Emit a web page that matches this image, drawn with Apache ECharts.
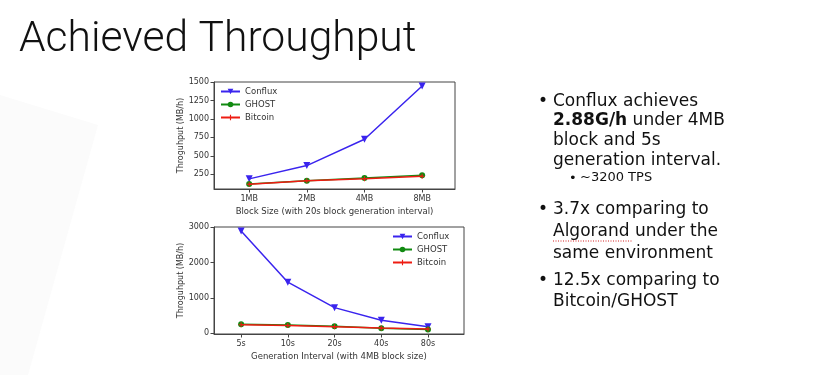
<!DOCTYPE html>
<html>
<head>
<meta charset="utf-8">
<script src="https://cdn.jsdelivr.net/npm/echarts@6/dist/echarts.min.js"></script>
<style>
html,body{margin:0;padding:0;background:#fff;}
#chart{width:815px;height:375px;}
</style>
</head>
<body>
<div id="chart"></div>
<script>
// ---- data ----
const blockSizes = ['1MB', '2MB', '4MB', '8MB'];
const confluxBySize = [185, 366, 725, 1450];
const ghostBySize = [115, 160, 196, 234];
const bitcoinBySize = [112, 158, 188, 222];
const sizeTicks = [250, 500, 750, 1000, 1250, 1500];

const intervals = ['5s', '10s', '20s', '40s', '80s'];
const confluxByInterval = [2890, 1445, 725, 366, 185];
const ghostByInterval = [253, 234, 196, 145, 105];
const bitcoinByInterval = [238, 218, 188, 150, 118];
const intervalTicks = [0, 1000, 2000, 3000];

const seriesNames = ['Conflux', 'GHOST', 'Bitcoin'];

// ---- styles ----
const C_BLUE = '#3a24ee';
const C_GREEN = '#118a11';
const C_RED = '#ee1c12';
const AX = '#444';
const TXT = '#333';
const tickFont = { fontFamily: 'DejaVu Sans', fontSize: 8, color: TXT };
const plusPath = 'path://M4,0 L6,0 L6,4 L10,4 L10,6 L6,6 L6,10 L4,10 L4,6 L0,6 L0,4 L4,4 Z';

function pts(arr) { return arr.map((v, i) => [i, v]); }

function mkSeries(idx, c, g, b) {
  return [
    { name: 'Conflux', type: 'line', xAxisIndex: idx, yAxisIndex: idx, data: pts(c),
      symbol: 'triangle', symbolRotate: 180, symbolSize: 7,
      lineStyle: { color: C_BLUE, width: 1.5 }, itemStyle: { color: C_BLUE }, z: 3 },
    { name: 'GHOST', type: 'line', xAxisIndex: idx, yAxisIndex: idx, data: pts(g),
      symbol: 'circle', symbolSize: 6,
      lineStyle: { color: C_GREEN, width: 1.5 }, itemStyle: { color: C_GREEN }, z: 4 },
    { name: 'Bitcoin', type: 'line', xAxisIndex: idx, yAxisIndex: idx, data: pts(b),
      symbol: plusPath, symbolSize: 5,
      lineStyle: { color: C_RED, width: 1.5 }, itemStyle: { color: C_RED }, z: 5 }
  ];
}

function mkX(idx, labels, min, max, name, nameGap) {
  const vals = labels.map((_, i) => i);
  return {
    gridIndex: idx, type: 'value', min: min, max: max,
    name: name, nameLocation: 'middle', nameGap: nameGap,
    nameTextStyle: { fontFamily: 'DejaVu Sans', fontSize: 8.5, color: TXT },
    axisLine: { show: true, onZero: false, lineStyle: { color: AX, width: 1 } },
    axisTick: { show: true, length: 3.5, lineStyle: { color: AX }, customValues: vals },
    axisLabel: Object.assign({ customValues: vals, margin: 6,
      formatter: v => labels[Math.round(v)] }, tickFont),
    splitLine: { show: false }
  };
}

function mkY(idx, ticks, min, max, nameGap) {
  return {
    gridIndex: idx, type: 'value', min: min, max: max,
    name: 'Throguhput (MB/h)', nameLocation: 'middle', nameGap: nameGap,
    nameTextStyle: { fontFamily: 'DejaVu Sans', fontSize: 8, color: TXT },
    axisLine: { show: true, onZero: false, lineStyle: { color: AX, width: 1 } },
    axisTick: { show: true, length: 3.5, lineStyle: { color: AX }, customValues: ticks },
    axisLabel: Object.assign({ customValues: ticks, margin: 5, formatter: v => String(v) }, tickFont),
    splitLine: { show: false }
  };
}

const bulletFont = 'DejaVu Sans';
function line(x, y, text, size, weight) {
  return { type: 'text', left: x, top: y,
    style: { text: text, fontFamily: bulletFont, fontSize: size || 17, fontWeight: weight || 'normal',
      fill: '#111', textVerticalAlign: 'top' } };
}

const legendText = { fontFamily: 'DejaVu Sans', fontSize: 8.5, color: TXT };

const chart = echarts.init(document.getElementById('chart'), null, { renderer: 'canvas' });
chart.setOption({
  animation: false,
  backgroundColor: '#fff',
  grid: [
    { left: 214, top: 82, width: 241, height: 107, show: true, borderColor: AX, borderWidth: 1, backgroundColor: 'transparent' },
    { left: 214, top: 227, width: 250, height: 107, show: true, borderColor: AX, borderWidth: 1, backgroundColor: 'transparent' }
  ],
  xAxis: [
    mkX(0, blockSizes, -0.61, 3.57, 'Block Size (with 20s block generation interval)', 18),
    mkX(1, intervals, -0.58, 4.77, 'Generation Interval (with 4MB block size)', 18)
  ],
  yAxis: [
    mkY(0, sizeTicks, 47, 1505, 28),
    mkY(1, intervalTicks, -20, 3005, 29)
  ],
  legend: [
    { data: seriesNames, orient: 'vertical', left: 220, top: 87, padding: 0, itemWidth: 19, itemHeight: 7, itemGap: 4,
      textStyle: legendText },
    { data: seriesNames, orient: 'vertical', left: 392, top: 232, padding: 0, itemWidth: 19, itemHeight: 7, itemGap: 4,
      textStyle: legendText }
  ],
  series: mkSeries(0, confluxBySize, ghostBySize, bitcoinBySize)
    .concat(mkSeries(1, confluxByInterval, ghostByInterval, bitcoinByInterval)),
  graphic: [
    { type: 'polygon', shape: { points: [[0, 95], [98, 125], [28, 375], [0, 375]] },
      style: { fill: '#fbfbfb' }, z: -10, silent: true },
    { type: 'text', left: 19, top: 19,
      style: { text: 'Achieved Throughput', fontFamily: 'Roboto', fontWeight: 300, fontSize: 42.6, fill: '#111' } },
    line(538, 93, '•'),
    line(553, 93, 'Conflux achieves'),
    { type: 'text', left: 553, top: 112,
      style: { rich: { b: { fontFamily: bulletFont, fontSize: 17, fontWeight: 'bold', fill: '#111' },
                       n: { fontFamily: bulletFont, fontSize: 17, fill: '#111' } },
               text: '{b|2.88G/h}{n| under 4MB}' } },
    line(553, 132, 'block and 5s'),
    line(553, 152, 'generation interval.'),
    line(569, 172, '•', 13),
    line(580, 171, '~3200 TPS', 13),
    line(538, 201, '•'),
    line(553, 201, '3.7x comparing to'),
    line(553, 223, 'Algorand under the'),
    { type: 'line', shape: { x1: 553, y1: 241, x2: 632, y2: 241 },
      style: { stroke: '#d42020', lineWidth: 1, lineDash: [1, 1.5] } },
    line(553, 245, 'same environment'),
    line(538, 272, '•'),
    line(553, 272, '12.5x comparing to'),
    line(553, 293, 'Bitcoin/GHOST')
  ]
});
</script>
</body>
</html>
